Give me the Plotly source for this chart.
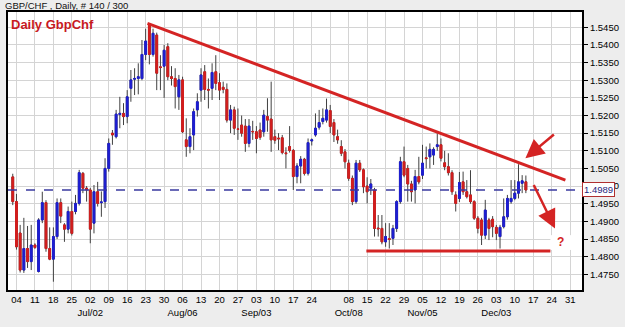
import plotly.graph_objects as go
import pandas as pd

# ---------------- data ----------------
dates = pd.bdate_range("2012-06-01", periods=140)

opens = [1.5026,1.4956,1.4867,1.4762,1.4823,1.4786,1.4833,1.4758,1.4904,1.4953,
         1.4823,1.4793,1.4857,1.4953,1.4890,1.4878,1.4928,1.4928,1.4951,1.5036,
         1.4994,1.4989,1.4895,1.4984,1.4953,1.4956,1.5050,1.5150,1.5140,1.5203,
         1.5206,1.5197,1.5277,1.5303,1.5305,1.5305,1.5373,1.5458,1.5373,1.5428,
         1.5338,1.5340,1.5395,1.5310,1.5305,1.5253,1.5301,1.5131,1.5112,1.5145,
         1.5216,1.5272,1.5324,1.5274,1.5277,1.5324,1.5293,1.5280,1.5274,1.5187,
         1.5216,1.5162,1.5173,1.5170,1.5121,1.5155,1.5154,1.5159,1.5154,1.5197,
         1.5190,1.5140,1.5136,1.5137,1.5094,1.5112,1.5101,1.5027,1.5057,1.5076,
         1.5036,1.5128,1.5145,1.5167,1.5183,1.5187,1.5214,1.5180,1.5140,1.5112,
         1.5097,1.5065,1.5022,1.4956,1.5065,1.5046,1.5000,1.4994,1.4989,1.4881,
         1.4880,1.4842,1.4851,1.4852,1.4880,1.4956,1.5069,1.5050,1.5006,1.4989,
         1.5027,1.5031,1.5080,1.5083,1.5088,1.5112,1.5117,1.5066,1.5055,1.5038,
         1.4975,1.4965,1.5012,1.4984,1.4975,1.4956,1.4909,1.4904,1.4861,1.4904,
         1.4906,1.4883,1.4857,1.4885,1.4913,1.4956,1.4965,1.4980,1.5008,1.5012]
highs = [1.5035,1.4978,1.4890,1.4910,1.4887,1.4890,1.4838,1.4909,1.4984,1.4960,
         1.4883,1.4883,1.4965,1.4965,1.4895,1.4942,1.4956,1.4975,1.5046,1.5040,
         1.5000,1.4995,1.5003,1.5012,1.4985,1.5079,1.5135,1.5159,1.5216,1.5253,
         1.5235,1.5272,1.5329,1.5334,1.5348,1.5414,1.5446,1.5460,1.5446,1.5435,
         1.5371,1.5400,1.5405,1.5340,1.5334,1.5315,1.5310,1.5192,1.5164,1.5220,
         1.5263,1.5334,1.5343,1.5305,1.5348,1.5371,1.5320,1.5296,1.5291,1.5230,
         1.5225,1.5220,1.5200,1.5190,1.5190,1.5185,1.5170,1.5180,1.5216,1.5249,
         1.5296,1.5160,1.5150,1.5145,1.5110,1.5170,1.5105,1.5065,1.5085,1.5080,
         1.5135,1.5135,1.5206,1.5216,1.5220,1.5248,1.5230,1.5190,1.5160,1.5130,
         1.5105,1.5075,1.5030,1.5074,1.5074,1.5050,1.5025,1.5020,1.4995,1.4918,
         1.4918,1.4895,1.4895,1.4890,1.4960,1.5083,1.5112,1.5060,1.5015,1.5046,
         1.5083,1.5117,1.5112,1.5121,1.5110,1.5150,1.5135,1.5100,1.5093,1.5045,
         1.4985,1.5040,1.5041,1.5017,1.5045,1.4960,1.4915,1.4910,1.4961,1.4910,
         1.4915,1.4890,1.4890,1.4965,1.4975,1.5017,1.5017,1.5062,1.5031,1.5030]
lows = [1.4946,1.4820,1.4755,1.4754,1.4768,1.4762,1.4822,1.4755,1.4895,1.4814,
        1.4790,1.4729,1.4850,1.4895,1.4842,1.4866,1.4860,1.4920,1.4945,1.4980,
        1.4956,1.4838,1.4866,1.4942,1.4913,1.4938,1.5041,1.5117,1.5135,1.5164,
        1.5173,1.5178,1.5239,1.5258,1.5260,1.5300,1.5357,1.5345,1.5367,1.5272,
        1.5272,1.5250,1.5300,1.5285,1.5220,1.5216,1.5150,1.5083,1.5093,1.5102,
        1.5197,1.5239,1.5244,1.5220,1.5244,1.5272,1.5244,1.5263,1.5180,1.5150,
        1.5145,1.5131,1.5140,1.5097,1.5110,1.5131,1.5093,1.5131,1.5140,1.5154,
        1.5097,1.5120,1.5102,1.5090,1.5050,1.5095,1.4989,1.5008,1.5008,1.5030,
        1.5030,1.5115,1.5140,1.5160,1.5175,1.5180,1.5150,1.5125,1.5120,1.5085,
        1.5050,1.5015,1.4946,1.4950,1.5040,1.4980,1.4951,1.4975,1.4857,1.4857,
        1.4835,1.4828,1.4823,1.4833,1.4870,1.4950,1.5025,1.4956,1.4956,1.4951,
        1.5005,1.5020,1.5050,1.5050,1.5060,1.5100,1.5070,1.5045,1.5030,1.4975,
        1.4928,1.4955,1.4975,1.4965,1.4950,1.4904,1.4866,1.4833,1.4850,1.4847,
        1.4855,1.4847,1.4823,1.4880,1.4905,1.4950,1.4960,1.4965,1.4980,1.4980]
closes = [1.4956,1.4828,1.4762,1.4823,1.4786,1.4833,1.4826,1.4904,1.4953,1.4823,
          1.4793,1.4857,1.4953,1.4915,1.4878,1.4928,1.4866,1.4951,1.5038,1.4994,
          1.4989,1.4878,1.4984,1.4951,1.4955,1.5050,1.5121,1.5145,1.5204,1.5206,
          1.5197,1.5253,1.5301,1.5305,1.5310,1.5373,1.5411,1.5373,1.5433,1.5320,
          1.5336,1.5385,1.5310,1.5305,1.5282,1.5301,1.5154,1.5112,1.5140,1.5211,
          1.5239,1.5315,1.5274,1.5272,1.5322,1.5291,1.5272,1.5274,1.5187,1.5216,
          1.5164,1.5161,1.5150,1.5121,1.5170,1.5154,1.5135,1.5138,1.5201,1.5187,
          1.5131,1.5130,1.5134,1.5095,1.5092,1.5101,1.5027,1.5057,1.5076,1.5036,
          1.5123,1.5131,1.5164,1.5180,1.5192,1.5216,1.5169,1.5145,1.5131,1.5093,
          1.5069,1.5022,1.4956,1.5065,1.5046,1.4998,1.4984,1.5006,1.4880,1.4879,
          1.4842,1.4857,1.4849,1.4880,1.4956,1.5069,1.5031,1.5006,1.4984,1.5027,
          1.5012,1.5065,1.5078,1.5104,1.5104,1.5117,1.5079,1.5055,1.5038,1.4984,
          1.4951,1.5010,1.4984,1.4970,1.4956,1.4909,1.4880,1.4861,1.4932,1.4880,
          1.4885,1.4866,1.4883,1.4913,1.4965,1.4965,1.4980,1.5012,1.5015,1.4989]

tick_dates = ["2012-06-04","2012-06-11","2012-06-18","2012-06-25","2012-07-02","2012-07-09",
              "2012-07-16","2012-07-23","2012-07-30","2012-08-06","2012-08-13","2012-08-20",
              "2012-08-27","2012-09-03","2012-09-10","2012-09-17","2012-09-24","2012-10-01",
              "2012-10-08","2012-10-15","2012-10-22","2012-10-29","2012-11-05","2012-11-12",
              "2012-11-19","2012-11-26","2012-12-03","2012-12-10","2012-12-17","2012-12-24",
              "2012-12-31"]
tick_text = ["04","11","18","25","02<br>Jul/02","09","16","23","30","06<br>Aug/06","13","20",
             "27","03<br>Sep/03","10","17","24","","08<br>Oct/08","15","22","29","05<br>Nov/05",
             "12","19","26","03<br>Dec/03","10","17","24","31"]
price_ticks = [1.4750 + 0.005 * k for k in range(15)]

trend_x = ["2012-07-23 12:00", "2012-12-27 17:00"]
trend_y = [1.5461, 1.5017]
support_x = ["2012-10-12 19:00", "2012-12-21 15:36"]
support_y = [1.4816, 1.4816]

# ---------------- style ----------------
BLUE = "#1E1ED2"
RED = "#D41E1E"
WICK = "#404040"
GRID = "#D4D4D4"
BG = "#EDEDED"
LINE_RED = "#D42424"

body_hi = [max(o, c) for o, c in zip(opens, closes)]
body_lo = [min(o, c) for o, c in zip(opens, closes)]

fig = go.Figure()
fig.add_trace(go.Candlestick(
    x=dates, open=opens, high=highs, low=lows, close=closes,
    increasing=dict(line=dict(color=WICK, width=1), fillcolor=WICK),
    decreasing=dict(line=dict(color=WICK, width=1), fillcolor=WICK),
    whiskerwidth=0, showlegend=False, hoverinfo="skip"))
fig.add_trace(go.Candlestick(
    x=dates, open=opens, high=body_hi, low=body_lo, close=closes,
    increasing=dict(line=dict(color=BLUE, width=1), fillcolor=BLUE),
    decreasing=dict(line=dict(color=RED, width=1), fillcolor=RED),
    whiskerwidth=0, showlegend=False))

last = closes[-1]
x_range = ["2012-05-30 17:00", "2013-01-03 05:00"]

shapes = [
    dict(type="line", xref="paper", x0=0, x1=1, yref="y", y0=last, y1=last,
         line=dict(color="#3A3AA0", width=1.5, dash="dash"), layer="above"),
    dict(type="rect", xref="x", x0=support_x[1], x1=x_range[1], yref="y",
         y0=1.4819, y1=1.4861, fillcolor="white", line=dict(width=0), layer="above"),
    dict(type="line", xref="x", yref="y", x0=trend_x[0], x1=trend_x[1],
         y0=trend_y[0], y1=trend_y[1], line=dict(color=LINE_RED, width=3), layer="above"),
    dict(type="line", xref="x", yref="y", x0=support_x[0], x1=support_x[1],
         y0=support_y[0], y1=support_y[1], line=dict(color=LINE_RED, width=3), layer="above"),
]

annotations = [
    dict(xref="paper", yref="paper", x=0, y=1.0216, xanchor="left", yanchor="middle",
         xshift=-5, text="GBP/CHF , Daily, # 140 / 300", showarrow=False,
         font=dict(family="Arial", size=9.5, color="#111111")),
    dict(xref="paper", yref="paper", x=0, y=0.955, xanchor="left", yanchor="middle",
         xshift=1, text="<b>Daily GbpChf</b>", showarrow=False,
         font=dict(family="Arial", size=13, color="#C8191E")),
    dict(xref="paper", yref="y", x=1, y=last, xanchor="left", yanchor="middle", xshift=0,
         text=f"{last:.4f}", showarrow=False, bgcolor="white", bordercolor="#B03030",
         borderwidth=1, borderpad=1, font=dict(family="Arial", size=9.5, color="#1F1F80")),
    dict(xref="x", yref="y", x="2012-12-12 21:00", y=1.5079, ax=30, ay=-25, text="",
         showarrow=True, arrowhead=2, arrowsize=1.5, arrowwidth=2.5, arrowcolor=LINE_RED),
    dict(xref="x", yref="y", x="2012-12-24 21:36", y=1.4880, ax=-22, ay=-45, text="",
         showarrow=True, arrowhead=2, arrowsize=1.5, arrowwidth=2.5, arrowcolor=LINE_RED),
    dict(xref="x", yref="y", x="2012-12-26 09:36", y=1.4842, text="<b>?</b>", showarrow=False,
         font=dict(family="Arial", size=12, color=LINE_RED)),
]

fig.update_layout(
    width=625, height=327,
    margin=dict(l=6, r=43, t=12, b=37),
    paper_bgcolor=BG, plot_bgcolor="white",
    showlegend=False,
    font=dict(family="Arial", size=9.5, color="black"),
    shapes=shapes, annotations=annotations,
    xaxis=dict(type="date", rangebreaks=[dict(bounds=["sat", "mon"])],
               range=x_range, tickmode="array", tickvals=tick_dates, ticktext=tick_text,
               tickangle=0,
               showgrid=True, gridcolor=GRID, gridwidth=1, ticks="",
               showline=True, linecolor="black", linewidth=2, mirror=True,
               rangeslider=dict(visible=False), zeroline=False,
               tickfont=dict(family="Arial", size=9.5, color="black")),
    yaxis=dict(side="right", range=[1.47055, 1.54934], tickmode="array",
               tickvals=price_ticks, ticktext=[f"{v:.4f}" for v in price_ticks],
               showgrid=True, gridcolor=GRID, gridwidth=1, ticks="outside", ticklen=4,
               tickcolor="black", showline=True, linecolor="black", linewidth=2,
               mirror=True, zeroline=False,
               tickfont=dict(family="Arial", size=9.5, color="black")),
)

fig.write_html("out.html")
